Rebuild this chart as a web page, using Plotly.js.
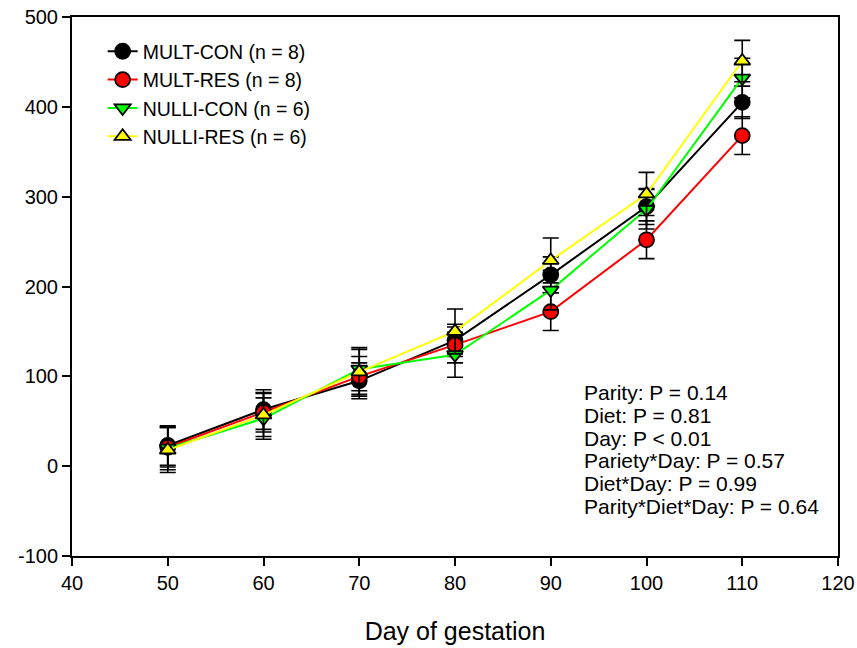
<!DOCTYPE html>
<html><head><meta charset="utf-8">
<script src="https://cdn.plot.ly/plotly-3.0.1.min.js"></script>
<style>body{margin:0;background:#fff}#chart{width:857px;height:648px}</style>
</head><body><div id="chart"></div>
<script>
const days = [50, 60, 70, 80, 90, 100, 110];
const multCon = [23, 63, 95, 140, 213, 289, 405];
const multConErr = [22, 22, 20, 18, 20, 20, 18];
const multRes = [21, 60, 100, 135, 172, 252, 368];
const multResErr = [22, 22, 22, 20, 21, 21, 21];
const nulliCon = [20, 53, 108, 124, 196, 286, 432];
const nulliConErr = [24, 23, 24, 25, 22, 22, 22];
const nulliRes = [18, 57, 105, 150, 229, 303, 451];
const nulliResErr = [25, 24, 25, 25, 25, 24, 23];
const names = ['MULT-CON (n = 8)', 'MULT-RES (n = 8)', 'NULLI-CON (n = 6)', 'NULLI-RES (n = 6)'];
const statLines = ['Parity: P = 0.14', 'Diet: P = 0.81', 'Day: P < 0.01', 'Pariety*Day: P = 0.57', 'Diet*Day: P = 0.99', 'Parity*Diet*Day: P = 0.64'];
const yTickVals = [-100, 0, 100, 200, 300, 400, 500];
const yTickText = ['-100', '0', '100', '200', '300', '400', '500'];

const series = [
  {y: multCon, e: multConErr, color: '#000000', symbol: 'circle'},
  {y: multRes, e: multResErr, color: '#ff0000', symbol: 'circle'},
  {y: nulliCon, e: nulliConErr, color: '#00ff00', symbol: 'triangle-down'},
  {y: nulliRes, e: nulliResErr, color: '#ffff00', symbol: 'triangle-up'}
];
const traces = series.map((s, i) => ({
  x: days, y: s.y, name: names[i], type: 'scatter', mode: 'lines+markers',
  line: {color: s.color, width: 2},
  marker: {symbol: s.symbol, size: s.symbol === 'circle' ? 15 : 14, color: s.color, line: {color: '#000', width: 1.8}},
  error_y: {type: 'data', array: s.e, visible: true, color: '#000', thickness: 1.6, width: 8}
}));

const plotTop = 17, plotBottom = 556, plotH = plotBottom - plotTop;
const statStart = 393, statStep = 22.6;
const annotations = statLines.map((t, i) => ({
  xref: 'paper', yref: 'paper', x: 0.666, y: (plotBottom - (statStart + i * statStep)) / plotH,
  xanchor: 'left', yanchor: 'middle', align: 'left', text: t, showarrow: false, font: {size: 21}
}));

const layout = {
  width: 857, height: 648,
  margin: {l: 72, r: 19, t: 17, b: 92},
  paper_bgcolor: '#fff', plot_bgcolor: '#fff',
  font: {family: 'Arial, "Liberation Sans", sans-serif', color: '#000', size: 20},
  showlegend: true,
  legend: {x: 0.04, y: 0.972, xanchor: 'left', yanchor: 'top', bgcolor: 'rgba(0,0,0,0)', font: {size: 19.5}, tracegroupgap: 0},
  xaxis: {range: [40, 120], dtick: 10, tick0: 40, showgrid: false, zeroline: false, showline: true, linecolor: '#000', linewidth: 2, mirror: true,
    ticks: 'outside', ticklen: 8, tickwidth: 1.5, tickcolor: '#000', tickfont: {size: 20},
    title: {text: 'Day of gestation', font: {size: 25}, standoff: 29}},
  yaxis: {range: [-100, 500], tickmode: 'array', tickvals: yTickVals, ticktext: yTickText, showgrid: false, zeroline: false, showline: true, linecolor: '#000', linewidth: 2, mirror: true,
    ticks: 'outside', ticklen: 8, tickwidth: 1.5, tickcolor: '#000', tickfont: {size: 20}},
  annotations: annotations
};
Plotly.newPlot('chart', traces, layout, {displayModeBar: false});
</script></body></html>
